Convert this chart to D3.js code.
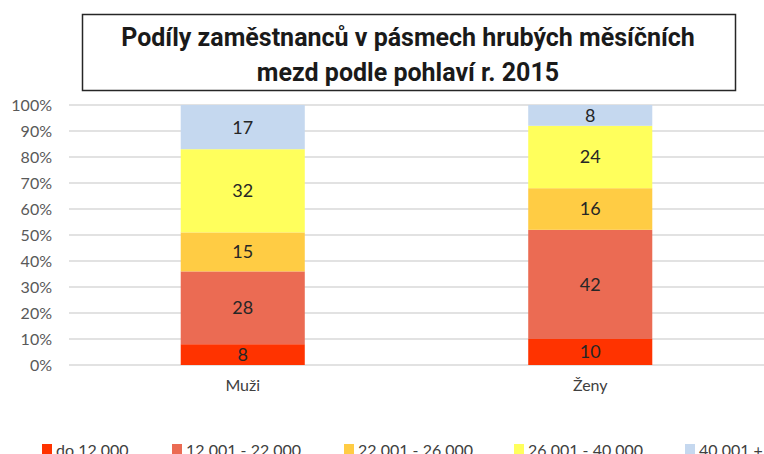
<!DOCTYPE html>
<html lang="cs">
<head>
    <meta charset="UTF-8">
    <script src="https://cdn.jsdelivr.net/npm/d3@7"></script>
    <style>
        body{ margin:0; background:#fff; }
        text{ font-family: Lato, "Open Sans", "Liberation Sans", sans-serif; }
        .title{ font-family: Roboto, "Liberation Sans", sans-serif; font-weight:bold; }
    </style>
    <title>Podíly zaměstnanců</title>
</head>
<body>
    <svg height="454" width="764"></svg>
    <script>
        // data
        var categories = ["Muži", "Ženy"];
        var bands = ["do 12 000", "12 001 - 22 000", "22 001 - 26 000", "26 001 - 40 000", "40 001 +"];
        var muzi = [8, 28, 15, 32, 17];
        var zeny = [10, 42, 16, 24, 8];
        var yTicks = [0, 10, 20, 30, 40, 50, 60, 70, 80, 90, 100];
        var colors = ["#FF3300", "#EB6B53", "#FFCC44", "#FFFF5C", "#C5D8EF"];

        var svg = d3.select("svg");
        var plotLeft = 69, plotRight = 764, plotTop = 105, plotBottom = 365;

        // title box
        svg.append("rect")
            .attr("x", 82.5).attr("y", 14.5)
            .attr("width", 653).attr("height", 76)
            .attr("fill", "#fff").attr("stroke", "#262626").attr("stroke-width", 1.5);
        svg.append("text").attr("class", "title")
            .attr("x", 408).attr("y", 46)
            .attr("text-anchor", "middle").attr("font-size", "25px").attr("fill", "#1a1a1a")
            .text("Podíly zaměstnanců v pásmech hrubých měsíčních");
        svg.append("text").attr("class", "title")
            .attr("x", 408).attr("y", 81)
            .attr("text-anchor", "middle").attr("font-size", "25px").attr("fill", "#1a1a1a")
            .text("mezd podle pohlaví r. 2015");

        var xScale = d3.scaleBand().domain(categories).range([plotLeft, plotRight])
            .paddingInner(0.643).paddingOuter(0.3215);
        var yScale = d3.scaleLinear().domain([0, 100]).range([plotBottom, plotTop]);

        // gridlines
        svg.append("g").selectAll("line")
            .data(yTicks).enter().append("line")
            .attr("x1", plotLeft).attr("x2", plotRight)
            .attr("y1", function(d){ return yScale(d); })
            .attr("y2", function(d){ return yScale(d); })
            .attr("stroke", "#d9d9d9").attr("stroke-width", 1.5);

        // y axis labels
        var yAxis = svg.append("g")
            .attr("transform", "translate(" + plotLeft + ",0)")
            .call(d3.axisLeft(yScale).tickValues(yTicks).tickSize(0).tickPadding(17)
                .tickFormat(function(d){ return d + "%"; }));
        yAxis.select(".domain").remove();
        yAxis.selectAll("text").attr("font-size", "16px").attr("fill", "#595959")
            .style("font-family", "Lato, 'Open Sans', sans-serif");

        // stacked bars
        var rows = categories.map(function(c, i){
            var r = { cat: c };
            var vals = i === 0 ? muzi : zeny;
            bands.forEach(function(b, j){ r[b] = vals[j]; });
            return r;
        });
        var stacked = d3.stack().keys(bands)(rows);

        var layer = svg.append("g").selectAll("g")
            .data(stacked).enter().append("g")
            .attr("fill", function(d, i){ return colors[i]; });
        layer.selectAll("rect")
            .data(function(d){ return d; }).enter().append("rect")
            .attr("x", function(d){ return xScale(d.data.cat); })
            .attr("y", function(d){ return yScale(d[1]); })
            .attr("width", xScale.bandwidth())
            .attr("height", function(d){ return yScale(d[0]) - yScale(d[1]); });
        layer.selectAll("text")
            .data(function(d){ return d; }).enter().append("text")
            .attr("x", function(d){ return xScale(d.data.cat) + xScale.bandwidth() / 2; })
            .attr("y", function(d){ return (yScale(d[0]) + yScale(d[1])) / 2; })
            .attr("dy", "0.36em")
            .attr("text-anchor", "middle").attr("font-size", "18px").attr("fill", "#262626")
            .text(function(d){ return d[1] - d[0]; });

        // x axis labels
        var xAxis = svg.append("g")
            .attr("transform", "translate(0," + plotBottom + ")")
            .call(d3.axisBottom(xScale).tickSize(0).tickPadding(15));
        xAxis.select(".domain").remove();
        xAxis.selectAll("text").attr("font-size", "16px").attr("fill", "#404040")
            .style("font-family", "Lato, 'Open Sans', sans-serif");

        // legend
        var legendX = [42, 172, 344, 514, 685];
        var legend = svg.append("g").selectAll("g")
            .data(bands).enter().append("g")
            .attr("transform", function(d, i){ return "translate(" + legendX[i] + ",444)"; });
        legend.append("rect")
            .attr("width", 10).attr("height", 10)
            .attr("fill", function(d, i){ return colors[i]; });
        legend.append("text")
            .attr("x", 14).attr("y", 12)
            .attr("font-size", "16px").attr("fill", "#404040")
            .text(function(d){ return d; });
    </script>
</body>
</html>
